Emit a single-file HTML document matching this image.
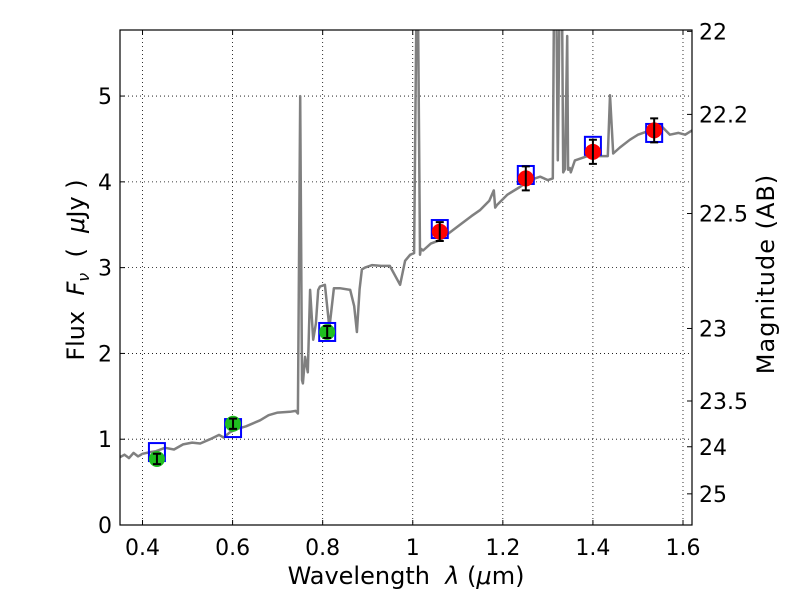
<!DOCTYPE html>
<html><head><meta charset="utf-8"><style>
body{margin:0;background:#fff;width:800px;height:600px;overflow:hidden}
svg text{font-family:"DejaVu Sans","Liberation Sans",sans-serif;fill:#000}
</style></head><body>
<svg id="chart" width="800" height="600" xmlns="http://www.w3.org/2000/svg">
<defs><clipPath id="clip"><rect x="120" y="30" width="572" height="495"/></clipPath></defs>
<g id="grid"></g>
<g id="spec" clip-path="url(#clip)"></g>
<g id="phot"></g>
<g id="axes"></g>
<text x="406" y="584" font-size="24" text-anchor="middle" xml:space="preserve">Wavelength  <tspan font-style="italic">λ</tspan> (<tspan font-style="italic">μ</tspan>m)</text>
<text transform="translate(84,270) rotate(-90)" font-size="24" text-anchor="middle" xml:space="preserve">Flux  <tspan font-style="italic">F</tspan><tspan font-style="italic" font-size="16" dy="5">ν</tspan><tspan dy="-5">  (  </tspan><tspan font-style="italic">μ</tspan>Jy )</text>
<text transform="translate(774,274) rotate(-90)" font-size="24" text-anchor="middle" letter-spacing="1">Magnitude (AB)</text>
</svg>
<script>
const specLam=[0.350,0.36,0.37,0.38,0.39,0.40,0.417,0.43,0.45,0.47,0.49,0.51,0.528,0.55,0.57,0.58,0.594,0.61,0.63,0.661,0.68,0.70,0.727,0.74,0.745,0.750,0.754,0.756,0.761,0.767,0.772,0.779,0.785,0.790,0.794,0.805,0.815,0.825,0.838,0.861,0.870,0.876,0.882,0.887,0.894,0.910,0.930,0.949,0.972,0.983,0.994,1.003,1.009,1.011,1.016,1.018,1.023,1.040,1.060,1.080,1.105,1.130,1.149,1.170,1.180,1.183,1.187,1.210,1.238,1.260,1.283,1.300,1.311,1.314,1.318,1.322,1.327,1.331,1.334,1.338,1.343,1.345,1.349,1.351,1.360,1.393,1.410,1.433,1.438,1.445,1.460,1.482,1.500,1.527,1.550,1.571,1.590,1.605,1.620];
const specFlux=[0.79,0.82,0.78,0.84,0.80,0.83,0.85,0.86,0.90,0.88,0.94,0.96,0.95,1.00,1.05,1.02,1.08,1.12,1.15,1.22,1.28,1.31,1.32,1.33,1.30,5.00,1.69,1.65,1.96,1.78,2.74,2.16,2.35,2.74,2.78,2.80,2.30,2.76,2.76,2.74,2.55,2.25,2.75,2.98,3.00,3.03,3.02,3.02,2.80,3.08,3.15,3.17,6.5,6.5,3.15,3.22,3.20,3.28,3.32,3.40,3.50,3.60,3.67,3.78,3.90,3.70,3.73,3.85,3.94,4.02,4.06,4.02,4.04,6.5,6.5,4.25,6.5,6.5,4.11,4.15,5.70,4.14,4.16,4.11,4.25,4.31,4.30,4.30,5.01,4.33,4.40,4.49,4.55,4.60,4.66,4.55,4.57,4.55,4.60];
const photLam=[0.432,0.601,0.810,1.060,1.251,1.400,1.536];
const photFlux=[0.77,1.18,2.25,3.42,4.04,4.35,4.60];
const photErr=[0.06,0.06,0.07,0.11,0.14,0.14,0.14];
const modelFlux=[0.85,1.13,2.25,3.45,4.08,4.42,4.57];
const photColor=['#1fbf1f','#1fbf1f','#1fbf1f','red','red','red','red'];
const xTicks=[0.4,0.6,0.8,1.0,1.2,1.4,1.6];
const xTickLabels=['0.4','0.6','0.8','1','1.2','1.4','1.6'];
const yTicks=[0,1,2,3,4,5];
const magTicks=[22,22.2,22.5,23,23.5,24,25];
const magLabels=['22','22.2','22.5','23','23.5','24','25'];
const X0=120,X1=692,Y0=525,Y1=30,XMIN=0.35,XMAX=1.62,YMIN=0,YMAX=5.77;
const xs=v=>X0+(v-XMIN)/(XMAX-XMIN)*(X1-X0);
const ys=v=>Y0-(v-YMIN)/(YMAX-YMIN)*(Y0-Y1);
const magToFlux=m=>Math.pow(10,(23.9-m)/2.5);
const NS='http://www.w3.org/2000/svg';
function mk(tag,attrs,parent){const e=document.createElementNS(NS,tag);for(const k in attrs)e.setAttribute(k,attrs[k]);parent.appendChild(e);return e;}
const grid=document.getElementById('grid'),axes=document.getElementById('axes'),spec=document.getElementById('spec'),phot=document.getElementById('phot');
xTicks.forEach((t,i)=>{const x=xs(t);
 const g=mk('line',{x1:x,x2:x,y1:Y1,y2:Y0,stroke:'#000','stroke-width':0.8,'stroke-dasharray':'1,3'},grid);
 
 
 mk('line',{x1:x,x2:x,y1:Y0,y2:Y0-5,stroke:'#000'},axes);
 mk('line',{x1:x,x2:x,y1:Y1,y2:Y1+5,stroke:'#000'},axes);
 const tx=mk('text',{x:x,y:555,'font-size':22,'text-anchor':'middle'},axes);tx.textContent=xTickLabels[i];
 
 
});
yTicks.forEach(t=>{const y=ys(t);
 const g=mk('line',{x1:X0,x2:X1,y1:y,y2:y,stroke:'#000','stroke-width':0.8,'stroke-dasharray':'1,3'},grid);
 
 
 mk('line',{x1:X0,x2:X0+5,y1:y,y2:y,stroke:'#000'},axes);
 const tx=mk('text',{x:112,y:y+8,'font-size':22,'text-anchor':'end'},axes);tx.textContent=String(t);
 
 
});
magTicks.forEach((m,i)=>{const y=ys(magToFlux(m));
 mk('line',{x1:X1,x2:X1-5,y1:y,y2:y,stroke:'#000'},axes);
 const tx=mk('text',{x:699,y:y+8,'font-size':22},axes);tx.textContent=magLabels[i];
 
 
});
const frame=mk('rect',{x:X0,y:Y1,width:X1-X0,height:Y0-Y1,fill:'none',stroke:'#000','stroke-width':1.2},axes);


const pts=specLam.map((l,i)=>xs(l).toFixed(1)+','+ys(specFlux[i]).toFixed(1)).join(' ');
const pl=mk('polyline',{points:pts,fill:'none',stroke:'#808080','stroke-width':2.5,'stroke-linejoin':'round'},spec);


photLam.forEach((l,i)=>{const x=xs(l);
 const sq=mk('rect',{x:x-8,y:ys(modelFlux[i])-9,width:16,height:18,fill:'none',stroke:'#0000ff','stroke-width':2},phot);
 
 
 const c=mk('circle',{cx:x,cy:ys(photFlux[i]),r:8,fill:photColor[i]},phot);
 
 
 const ya=ys(photFlux[i]+photErr[i]),yb=ys(photFlux[i]-photErr[i]);
 const eb=mk('path',{d:`M${x},${ya}V${yb}M${x-4},${ya}H${x+4}M${x-4},${yb}H${x+4}`,stroke:'#000','stroke-width':2,fill:'none'},phot);
 
 
});
</script>
</body></html>
